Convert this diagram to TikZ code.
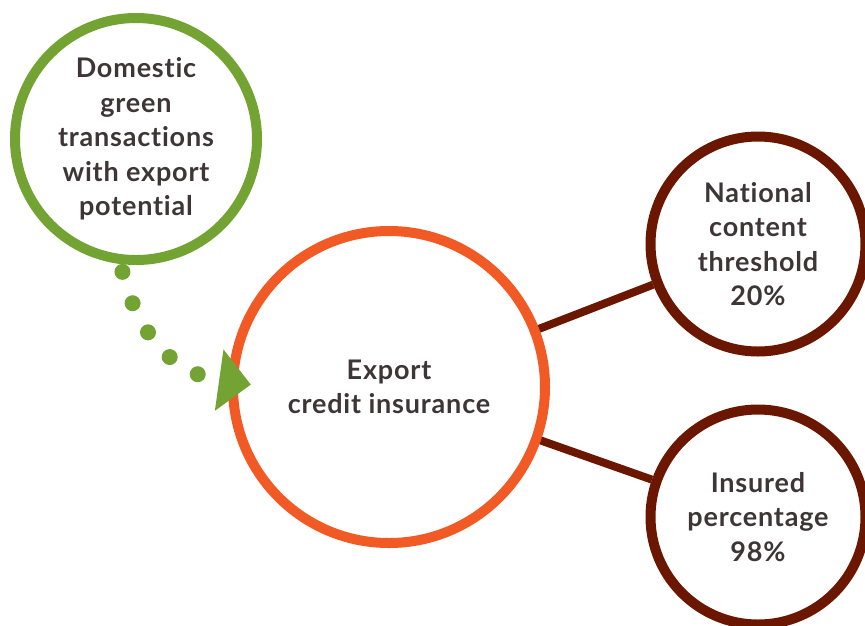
\documentclass[tikz,border=0pt]{standalone}
\usepackage{fontspec}
\setmainfont[Ligatures=NoCommon,LetterSpace=3]{Lato}
\usetikzlibrary{arrows.meta,positioning}
\definecolor{leaf}{HTML}{72A333}
\definecolor{flame}{HTML}{F15A24}
\definecolor{maroon}{HTML}{6B1700}
\definecolor{ink}{HTML}{3E3537}
\tikzset{
  ring/.style={circle,line width=10pt,inner sep=0pt,align=center,text=ink,
    font=\fontsize{27}{34.5}\selectfont\bfseries},
  dotflow/.style={draw=leaf,line width=16pt,line cap=round,
    dash pattern=on 0pt off 33pt,dash phase=25pt,
    -{Triangle[length=32pt,width=60pt,fill=leaf]}},
  link/.style={draw=maroon,line width=8pt}
}

\begin{document}
\begin{tikzpicture}[x=1pt,y=1pt]
    \useasboundingbox (0,0) rectangle (865,-625);
    \node[ring,draw=leaf,minimum size=242pt] (dgt) at (136,-139)
      {Domestic\\green\\transactions\\with export\\potential};
    \node[ring,draw=flame,minimum size=312pt] (eci) at (389,-387)
      {Export\\credit insurance};
    \node[ring,draw=maroon,minimum size=215pt] (nct) at (758,-244)
      {National\\content\\threshold\\20\%};
    \node[ring,draw=maroon,minimum size=215pt] (ipc) at (758,-517)
      {Insured\\percentage\\98\%};
    \draw[link] (eci) -- (nct);
    \draw[link] (eci) -- (ipc);
    \draw[dotflow,shorten >=-23pt] (dgt.-97) to[out=-78,in=172] (eci.178);
\end{tikzpicture}
\end{document}
